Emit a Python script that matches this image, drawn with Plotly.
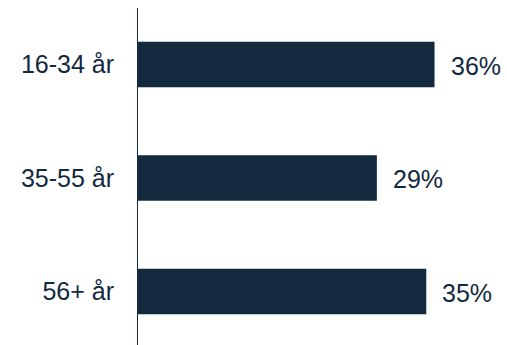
import plotly.graph_objects as go

# Share per age group (percent)
age_groups = ["16-34 år", "35-55 år", "56+ år"]
shares = [36, 29, 35]
share_labels = ["36%", "29%", "35%"]

navy = "#13293D"
font_family = "Liberation Sans, Arial, sans-serif"

fig = go.Figure(
    go.Bar(
        x=shares,
        y=age_groups,
        orientation="h",
        marker=dict(color=navy, line=dict(width=0)),
        width=0.4,
        hoverinfo="skip",
    )
)

# Value labels to the right of each bar
for grp, val, lab in zip(age_groups, shares, share_labels):
    fig.add_annotation(
        x=val, y=grp, text=lab, showarrow=False,
        xanchor="left", yanchor="middle", xshift=14, yshift=-1,
        font=dict(family=font_family, size=25, color=navy),
    )

fig.update_layout(
    width=507, height=345,
    margin=dict(l=138, r=0, t=8, b=0),
    paper_bgcolor="white", plot_bgcolor="white",
    showlegend=False,
    bargap=0.6,
    font=dict(family=font_family, size=25, color=navy),
)
fig.update_xaxes(
    range=[0, 44.8], visible=False, showgrid=False, zeroline=False,
)
fig.update_yaxes(
    type="category", categoryorder="array", categoryarray=age_groups,
    range=[2.471, -0.498],
    showline=True, linecolor=navy, linewidth=1,
    showgrid=False, zeroline=False, ticks="",
    ticklabelstandoff=18,
    tickfont=dict(family=font_family, size=25, color=navy),
)

fig.write_html("out.html")
